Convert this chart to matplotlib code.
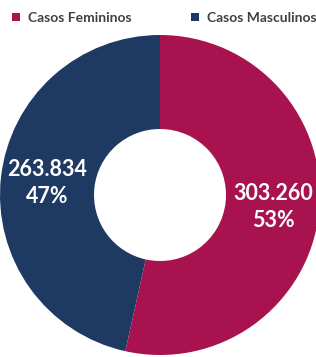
import matplotlib
matplotlib.use('Agg')
import matplotlib.pyplot as plt
from matplotlib.patches import Patch

categories = ['Casos Femininos', 'Casos Masculinos']
values = [303260, 263834]
colors = ['#A8134F', '#1E3A63']

plt.rcParams['font.family'] = ['Lato', 'DejaVu Sans']

W, H = 316, 357
fig = plt.figure(figsize=(W / 100, H / 100), dpi=100)
ax = fig.add_axes([0, 0, 1, 1])

total = sum(values)
labels = ['{:,}'.format(v).replace(',', '.') + '\n{:.0f}%'.format(100 * v / total) for v in values]

R = 160
hole = 66
wedges, texts = ax.pie(values, colors=colors, labels=labels, startangle=90, counterclock=False,
                       center=(160, H - 195), radius=R, labeldistance=0.71,
                       wedgeprops=dict(width=R - hole, edgecolor='none'),
                       textprops=dict(color='white', fontsize=15.5, fontweight='bold',
                                      linespacing=1.35),
                       frame=True)
ax.set_xlim(0, W)
ax.set_ylim(0, H)
ax.axis('off')
for t in texts:
    t.set_horizontalalignment('center')
    t.set_verticalalignment('center')

handles = [Patch(facecolor=c, edgecolor='none') for c in colors]
leg = ax.legend(handles, categories, loc='upper left', bbox_to_anchor=(0.0, 1.0), ncol=2,
                frameon=False, handlelength=0.6, handleheight=0.6, handletextpad=0.55,
                columnspacing=4.3, borderaxespad=0.45, fontsize=10)
for t in leg.get_texts():
    t.set_color('#404040')
    t.set_fontweight('bold')

fig.savefig('out.png', dpi=100)
